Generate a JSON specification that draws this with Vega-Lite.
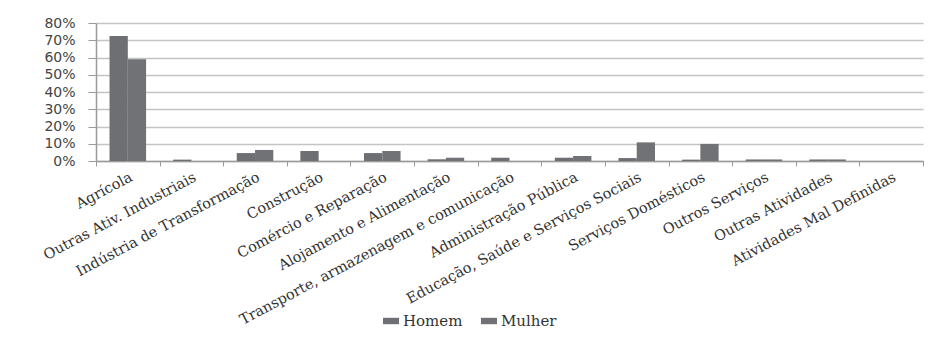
{
  "$schema": "https://vega.github.io/schema/vega-lite/v6.json",
  "autosize": "none",
  "width": 827,
  "height": 138,
  "padding": {"left": 96, "top": 23, "right": 24, "bottom": 182},
  "background": "white",
  "data": {
    "values": [
      {"setor": "Agrícola", "sexo": "Homem", "valor": 72.5},
      {"setor": "Agrícola", "sexo": "Mulher", "valor": 59},
      {"setor": "Outras Ativ. Industriais", "sexo": "Homem", "valor": 0.8},
      {"setor": "Outras Ativ. Industriais", "sexo": "Mulher", "valor": 0},
      {"setor": "Indústria de Transformação", "sexo": "Homem", "valor": 4.6},
      {"setor": "Indústria de Transformação", "sexo": "Mulher", "valor": 6.4},
      {"setor": "Construção", "sexo": "Homem", "valor": 5.8},
      {"setor": "Construção", "sexo": "Mulher", "valor": 0},
      {"setor": "Comércio e Reparação", "sexo": "Homem", "valor": 4.6},
      {"setor": "Comércio e Reparação", "sexo": "Mulher", "valor": 5.8},
      {"setor": "Alojamento e Alimentação", "sexo": "Homem", "valor": 1.0},
      {"setor": "Alojamento e Alimentação", "sexo": "Mulher", "valor": 1.9},
      {"setor": "Transporte, armazenagem e comunicação", "sexo": "Homem", "valor": 1.9},
      {"setor": "Transporte, armazenagem e comunicação", "sexo": "Mulher", "valor": 0},
      {"setor": "Administração Pública", "sexo": "Homem", "valor": 1.9},
      {"setor": "Administração Pública", "sexo": "Mulher", "valor": 2.9},
      {"setor": "Educação, Saúde e Serviços Sociais", "sexo": "Homem", "valor": 1.7},
      {"setor": "Educação, Saúde e Serviços Sociais", "sexo": "Mulher", "valor": 10.8},
      {"setor": "Serviços Domésticos", "sexo": "Homem", "valor": 0.8},
      {"setor": "Serviços Domésticos", "sexo": "Mulher", "valor": 9.9},
      {"setor": "Outros Serviços", "sexo": "Homem", "valor": 0.9},
      {"setor": "Outros Serviços", "sexo": "Mulher", "valor": 0.9},
      {"setor": "Outras Atividades", "sexo": "Homem", "valor": 0.9},
      {"setor": "Outras Atividades", "sexo": "Mulher", "valor": 0.9},
      {"setor": "Atividades Mal Definidas", "sexo": "Homem", "valor": 0},
      {"setor": "Atividades Mal Definidas", "sexo": "Mulher", "valor": 0}
    ]
  },
  "mark": {"type": "bar"},
  "encoding": {
    "x": {
      "field": "setor",
      "type": "nominal",
      "sort": null,
      "scale": {"paddingInner": 0, "paddingOuter": 0},
      "axis": {
        "title": null,
        "labelAngle": -28,
        "labelFont": "DejaVu Serif",
        "labelFontSize": 14.5,
        "labelColor": "#333333",
        "labelLimit": 500,
        "labelPadding": 4,
        "tickBand": "extent",
        "tickSize": 5,
        "tickColor": "#9a9a9a",
        "domainColor": "#9a9a9a",
        "domainWidth": 1.5,
        "grid": false
      }
    },
    "xOffset": {
      "field": "sexo",
      "type": "nominal",
      "scale": {"paddingInner": 0, "paddingOuter": 0.74}
    },
    "y": {
      "field": "valor",
      "type": "quantitative",
      "scale": {"domain": [0, 80]},
      "axis": {
        "title": null,
        "values": [0, 10, 20, 30, 40, 50, 60, 70, 80],
        "labelExpr": "datum.value + '%'",
        "labelFont": "DejaVu Sans",
        "labelFontSize": 14,
        "labelColor": "#444444",
        "labelPadding": 13,
        "tickSize": 8,
        "tickColor": "#9a9a9a",
        "domainColor": "#9a9a9a",
        "domainWidth": 1.5,
        "gridColor": "#c4c4c4",
        "gridWidth": 1.5
      }
    },
    "color": {
      "field": "sexo",
      "type": "nominal",
      "scale": {"domain": ["Homem", "Mulher"], "range": ["#6e6f73", "#717276"]},
      "legend": {
        "title": null,
        "orient": "none",
        "direction": "horizontal",
        "legendX": 287,
        "legendY": 290,
        "symbolType": "M-1,-0.4H1V0.4H-1Z",
        "symbolSize": 256,
        "symbolStrokeWidth": 0,
        "labelFont": "DejaVu Serif",
        "labelFontSize": 15,
        "labelColor": "#333333",
        "columnPadding": 18,
        "labelOffset": 4
      }
    }
  },
  "config": {
    "view": {"stroke": null}
  }
}
